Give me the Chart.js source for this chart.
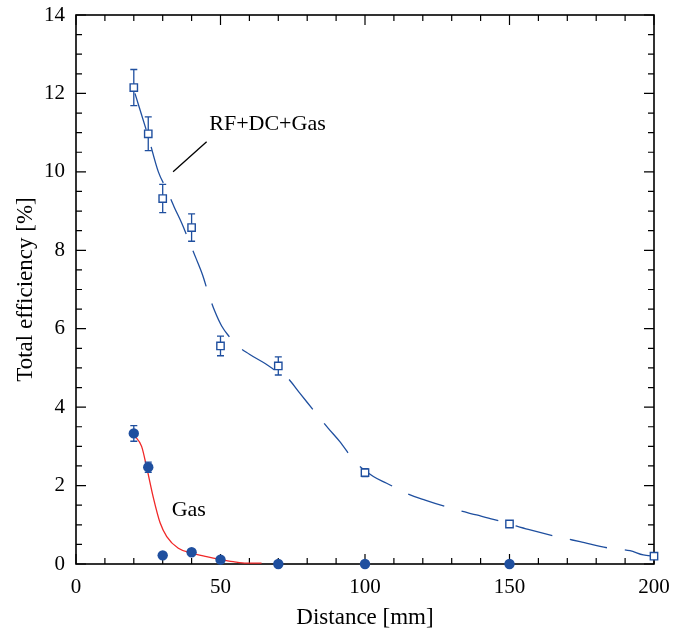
<!DOCTYPE html>
<html>
<head>
<meta charset="utf-8">
<script src="https://cdn.jsdelivr.net/npm/chart.js@4.4.1/dist/chart.umd.min.js"></script>
<style>
  html, body { margin: 0; padding: 0; background: #fff; }
  #wrap { width: 686px; height: 632px; }
</style>
</head>
<body>
<div id="wrap"><canvas id="chart"></canvas></div>
<script>
// measured points
const distances = [20, 25, 30, 40, 50, 70, 100, 150, 200];
const rfValues = [12.15, 10.97, 9.32, 8.58, 5.56, 5.05, 2.33, 1.02, 0.20];
const rfErrors = [0.46, 0.43, 0.36, 0.35, 0.25, 0.23, 0.10, 0, 0];

const gasDistances = [20, 25, 30, 40, 50, 70, 100, 150];
const gasValues = [3.33, 2.47, 0.22, 0.30, 0.11, 0.0, 0.0, 0.0];
const gasErrors = [0.2, 0.13, 0, 0, 0, 0, 0, 0];

// fitted curves
const rfFitX = [20.4, 25, 28.5, 31.4, 34, 36.6, 39.2, 41.5, 43.8, 45.8, 48, 50.4, 53, 55.4, 60, 65.7, 70.6, 72.7, 77.5, 82.1, 87.3, 91.3, 96.5, 102.9, 107.5, 114.4, 120.8, 131.7, 138.6, 144.4, 150, 156.5, 167.5, 174.4, 184.8, 191.7, 196.3, 200];
const rfFitY = [12.0, 10.9, 10.0, 9.54, 9.1, 8.69, 8.22, 7.8, 7.37, 6.9, 6.45, 6.07, 5.8, 5.59, 5.35, 5.10, 4.86, 4.78, 4.35, 3.93, 3.46, 3.12, 2.61, 2.23, 2.06, 1.80, 1.63, 1.38, 1.25, 1.14, 1.02, 0.88, 0.68, 0.57, 0.40, 0.34, 0.23, 0.20];

const gasFitX = [20.2, 22.7, 24.5, 26.8, 29.1, 31.4, 35.4, 40, 45.2, 49.8, 54.4, 59, 64.2];
const gasFitY = [3.28, 3.0, 2.45, 1.68, 1.05, 0.70, 0.40, 0.28, 0.19, 0.12, 0.06, 0.02, 0.02];

const xTicks = [0, 50, 100, 150, 200];
const yTicks = [0, 2, 4, 6, 8, 10, 12, 14];

const BLUE = "#1f4f9f";
const RED = "#f02828";
const SERIF = "'Liberation Serif', 'Times New Roman', serif";

const toPoints = (xs, ys) => xs.map((x, i) => ({ x: x, y: ys[i] }));

// frame with inward ticks on all four sides
const framePlugin = {
  id: "frame",
  beforeDatasetsDraw(chart) {
    const { ctx, chartArea: a, scales } = chart;
    const x = scales.x, y = scales.y;
    ctx.save();
    ctx.strokeStyle = "#000";
    ctx.lineWidth = 1.6;
    ctx.strokeRect(a.left, a.top, a.right - a.left, a.bottom - a.top);
    ctx.lineWidth = 1.2;
    ctx.beginPath();
    for (let v = 0; v <= 200; v += 10) {
      const px = x.getPixelForValue(v);
      const len = v % 50 === 0 ? 10 : 6;
      ctx.moveTo(px, a.bottom); ctx.lineTo(px, a.bottom - len);
      ctx.moveTo(px, a.top); ctx.lineTo(px, a.top + len);
    }
    for (let v = 0; v <= 14; v += 0.5) {
      const py = y.getPixelForValue(v);
      const len = v % 2 === 0 ? 10 : 6;
      ctx.moveTo(a.left, py); ctx.lineTo(a.left + len, py);
      ctx.moveTo(a.right, py); ctx.lineTo(a.right - len, py);
    }
    ctx.stroke();
    ctx.restore();
  }
};

// error bars, drawn after the fit lines and before the markers
const errorBarPlugin = {
  id: "errorBars",
  beforeDatasetDraw(chart, args) {
    if (args.index !== 1) return;
    const { ctx, scales } = chart;
    const sets = [
      [distances, rfValues, rfErrors],
      [gasDistances, gasValues, gasErrors]
    ];
    ctx.save();
    ctx.strokeStyle = BLUE;
    ctx.lineWidth = 1.3;
    ctx.beginPath();
    sets.forEach(([xs, ys, es]) => {
      xs.forEach((xv, i) => {
        if (!es[i]) return;
        const px = scales.x.getPixelForValue(xv);
        const top = scales.y.getPixelForValue(ys[i] + es[i]);
        const bot = scales.y.getPixelForValue(ys[i] - es[i]);
        ctx.moveTo(px, top); ctx.lineTo(px, bot);
        ctx.moveTo(px - 3.5, top); ctx.lineTo(px + 3.5, top);
        ctx.moveTo(px - 3.5, bot); ctx.lineTo(px + 3.5, bot);
      });
    });
    ctx.stroke();
    ctx.restore();
  }
};

// curve labels
const labelPlugin = {
  id: "labels",
  afterDraw(chart) {
    const { ctx, scales } = chart;
    const sx = v => scales.x.getPixelForValue(v);
    const sy = v => scales.y.getPixelForValue(v);
    ctx.save();
    ctx.fillStyle = "#000";
    ctx.font = "22px " + SERIF;
    ctx.textBaseline = "middle";
    ctx.fillText("RF+DC+Gas", sx(46.1), sy(11.22));
    ctx.fillText("Gas", sx(33.1), sy(1.38));
    ctx.strokeStyle = "#000";
    ctx.lineWidth = 1.3;
    ctx.beginPath();
    ctx.moveTo(sx(33.6), sy(10.0));
    ctx.lineTo(sx(45.2), sy(10.77));
    ctx.stroke();
    ctx.restore();
  }
};

new Chart(document.getElementById("chart").getContext("2d"), {
  type: "scatter",
  data: {
    datasets: [
      {
        label: "RF+DC+Gas",
        data: toPoints(distances, rfValues),
        pointStyle: "rect",
        pointRadius: 5.2,
        pointBorderWidth: 1.4,
        pointBackgroundColor: "#fff",
        pointBorderColor: BLUE,
        showLine: false,
        clip: false
      },
      {
        label: "Gas",
        data: toPoints(gasDistances, gasValues),
        pointStyle: "circle",
        pointRadius: 5.2,
        pointBorderWidth: 0,
        pointBackgroundColor: BLUE,
        pointBorderColor: BLUE,
        showLine: false,
        clip: false
      },
      {
        label: "RF fit",
        data: toPoints(rfFitX, rfFitY),
        showLine: true,
        borderColor: BLUE,
        borderWidth: 1.3,
        borderDash: [38, 18],
        pointRadius: 0,
        cubicInterpolationMode: "monotone",
        fill: false
      },
      {
        label: "Gas fit",
        data: toPoints(gasFitX, gasFitY),
        showLine: true,
        borderColor: RED,
        borderWidth: 1.3,
        pointRadius: 0,
        cubicInterpolationMode: "monotone",
        fill: false
      }
    ]
  },
  options: {
    responsive: true,
    maintainAspectRatio: false,
    animation: false,
    layout: { padding: { top: 15, right: 32, left: 0, bottom: 0 } },
    plugins: {
      legend: { display: false },
      tooltip: { enabled: false }
    },
    scales: {
      x: {
        type: "linear",
        min: 0,
        max: 200,
        afterBuildTicks: s => { s.ticks = xTicks.map(v => ({ value: v })); },
        afterFit: s => { s.height = 68; s.paddingLeft = 0; s.paddingRight = 0; },
        grid: { display: false, drawTicks: false },
        border: { display: false },
        ticks: { color: "#000", padding: 11, font: { family: SERIF, size: 21 }, maxRotation: 0 },
        title: {
          display: true,
          text: "Distance [mm]",
          color: "#000",
          font: { family: SERIF, size: 23 },
          padding: { top: 0, bottom: 0 }
        }
      },
      y: {
        type: "linear",
        min: 0,
        max: 14,
        afterBuildTicks: s => { s.ticks = yTicks.map(v => ({ value: v })); },
        afterFit: s => { s.width = 76; s.paddingTop = 0; s.paddingBottom = 0; },
        grid: { display: false, drawTicks: false },
        border: { display: false },
        ticks: { color: "#000", padding: 11, font: { family: SERIF, size: 21 } },
        title: {
          display: true,
          text: "Total efficiency [%]",
          color: "#000",
          font: { family: SERIF, size: 23 },
          padding: { top: 12, bottom: 0 }
        }
      }
    }
  },
  plugins: [framePlugin, errorBarPlugin, labelPlugin]
});
</script>
</body>
</html>
